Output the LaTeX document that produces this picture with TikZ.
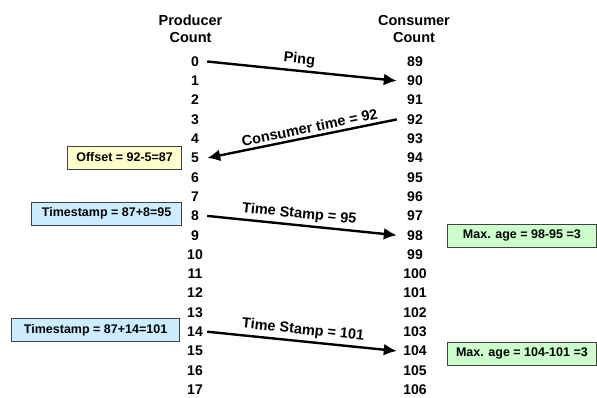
\documentclass[tikz,border=0pt]{standalone}
\usepackage{fontspec}
\setmainfont{Liberation Sans}
\usetikzlibrary{arrows.meta}
\definecolor{offsetfill}{HTML}{FFFFCC}
\definecolor{stampfill}{HTML}{CCECFF}
\definecolor{agefill}{HTML}{CCFFCC}
\tikzset{
    count/.style={font=\fontsize{14}{14}\selectfont\bfseries, inner sep=0pt},
    prodnum/.style={count, minimum width=24pt},
    consnum/.style={count, minimum width=36pt},
    head/.style={align=center, font=\fontsize{14.5}{17.5}\selectfont\bfseries},
    msg/.style={-{Latex[length=13pt,width=12pt]}, line width=2.4pt},
    msglabel/.style={font=\fontsize{14.5}{14.5}\selectfont\bfseries, sloped, above, inner sep=3pt},
    infobox/.style={draw=black!75, line width=0.8pt, font=\fontsize{12.5}{12.5}\selectfont\bfseries, minimum height=23pt, inner sep=0pt},
}

\begin{document}
\begin{tikzpicture}[x=1pt,y=-1pt]
    \useasboundingbox (0,0) rectangle (597,397);
    \node[head] (prodhead) at (190.5,29) {Producer\\Count};
    \node[head] (conshead) at (414,29) {Consumer\\Count};
    \foreach \i in {0,...,17} {
        \pgfmathtruncatemacro{\c}{89+\i}
        \node[prodnum] (p\i) at (195,{61.5+19.3*\i}) {\i};
        \node[consnum] (c\c) at (415,{61.5+19.3*\i}) {\c};
    }
    \draw[msg] (p0.east) -- node[msglabel, pos=0.48] {Ping} (c90.west);
    \draw[msg] (c92.west) -- node[msglabel, pos=0.45] {Consumer time = 92} (p5.east);
    \draw[msg] (p8.east) -- node[msglabel, pos=0.48] {Time Stamp = 95} (c98.west);
    \draw[msg] (p14.east) -- node[msglabel, pos=0.5] {Time Stamp = 101} (c104.west);
    \node[infobox, fill=offsetfill, minimum width=114pt, anchor=east] (offset) at (182,157.5) {Offset = 92-5=87};
    \node[infobox, fill=stampfill, minimum width=150pt, anchor=east] (stamp1) at (182,213.5) {Timestamp = 87+8=95};
    \node[infobox, fill=stampfill, minimum width=168pt, anchor=east] (stamp2) at (180,330) {Timestamp = 87+14=101};
    \node[infobox, fill=agefill, minimum width=149pt, anchor=west] (age1) at (447,235.5) {Max. age = 98-95 =3};
    \node[infobox, fill=agefill, minimum width=149pt, anchor=west] (age2) at (447,353.5) {Max. age = 104-101 =3};
\end{tikzpicture}
\end{document}
